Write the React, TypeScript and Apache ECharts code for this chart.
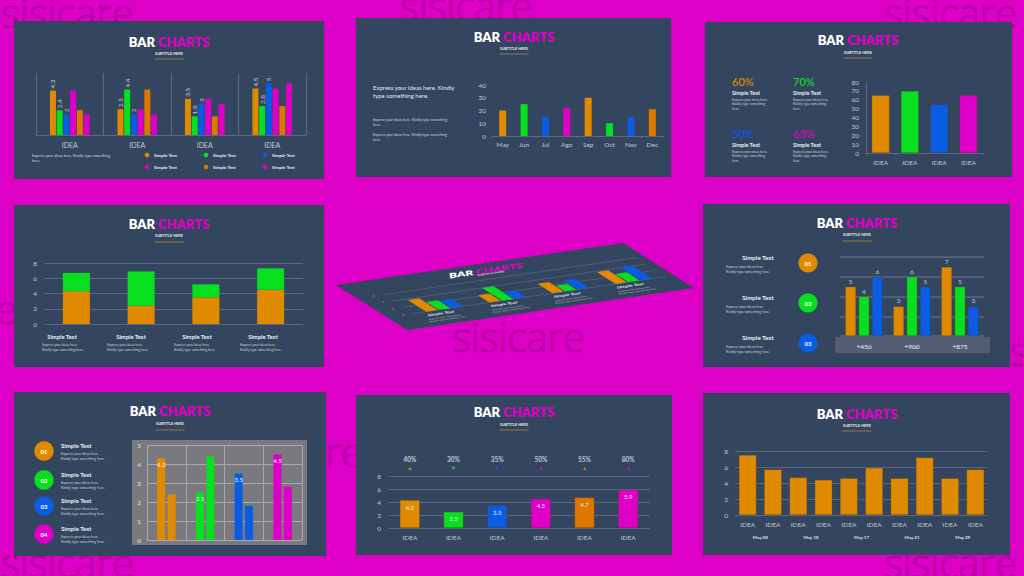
import React, { useEffect, useRef } from 'react';
import * as echarts from 'echarts';

// ---------------- data ----------------
const p1Categories = ['IDEA', 'IDEA', 'IDEA', 'IDEA'];
const p1Orange = [4.3, 2.5, 3.5, 4.5];
const p1Green = [2.4, 4.4, 1.8, 2.8];
const p1Blue = [2, 2, 3, 5];
const p1Magenta = [4.3, 2.5, 3.5, 4.5];
const p1DarkOrange = [2.4, 4.4, 1.8, 2.8];
const p1Magenta2 = [2, 2, 3, 5];
const p1Legend = ['Simple Text', 'Simple Text', 'Simple Text', 'Simple Text', 'Simple Text', 'Simple Text'];

const p2Months = ['May', 'Jun', 'Jul', 'Ago', 'Sep', 'Oct', 'Nov', 'Dec'];
const p2Values = [20, 25, 15, 22, 30, 10, 15, 21];

const p3Categories = ['IDEA', 'IDEA', 'IDEA', 'IDEA'];
const p3Values = [65, 70, 55, 65];
const p3Stats = ['60%', '70%', '50%', '63%'];

const p4Labels = ['Simple Text', 'Simple Text', 'Simple Text', 'Simple Text'];
const p4Base = [4.3, 2.4, 3.5, 4.5];
const p4Top = [2.4, 4.5, 1.7, 2.8];

const p5Groups = ['G1', 'G2', 'G3', 'G4'];
const p5Orange = [3.7, 2.3, 3.0, 3.8];
const p5Green = [2.5, 4.0, 1.8, 2.6];
const p5Blue = [2.3, 2.1, 2.8, 4.2];
const p5GridValues = [0, 2, 4, 6];

const p6Categories = ['+450', '+900', '+875'];
const p6Orange = [5, 3, 7];
const p6Green = [4, 6, 5];
const p6Blue = [6, 5, 3];
const p6Steps = ['01', '02', '03'];

const p7Categories = ['A', 'B', 'C', 'D'];
const p7First = [4.3, 2.5, 3.5, 4.5];
const p7Second = [2.4, 4.4, 1.8, 2.8];
const p7Steps = ['01', '02', '03', '04'];

const p8Categories = ['IDEA', 'IDEA', 'IDEA', 'IDEA', 'IDEA', 'IDEA'];
const p8Values = [4.3, 2.5, 3.5, 4.5, 4.7, 5.9];
const p8Percents = ['40%', '30%', '35%', '50%', '55%', '80%'];
const p8Trends = ['up', 'down', 'down', 'up', 'up', 'up'];

const p9Categories = ['IDEA', 'IDEA', 'IDEA', 'IDEA', 'IDEA', 'IDEA', 'IDEA', 'IDEA', 'IDEA', 'IDEA'];
const p9Values = [7.5, 5.7, 4.7, 4.4, 4.6, 5.9, 4.6, 7.2, 4.6, 5.7];
const p9Dates = ['May 08', 'May 10', 'May 17', 'May 21', 'May 29'];

// ---------------- styles ----------------
const PAGE_BG = '#dd00c6';
const PANEL = '#34455f';
const ORANGE = '#e08a00';
const GREEN = '#06e01f';
const BLUE = '#0a5ce2';
const MAGENTA = '#df00c8';
const DORANGE = '#de7600';
const GOLD = '#9a7843';
const AXIS_GREY = '#5b687e';
const LABEL = '#c3c9d3';
const WHITE = '#f2f4f7';
const FONT = 'Lato, "Open Sans", sans-serif';

const p1Colors = [ORANGE, GREEN, BLUE, MAGENTA, DORANGE, MAGENTA];
const p2Colors = [ORANGE, GREEN, BLUE, MAGENTA, ORANGE, GREEN, BLUE, DORANGE];
const p3Colors = [ORANGE, GREEN, BLUE, MAGENTA];
const p7Colors = [ORANGE, GREEN, BLUE, MAGENTA];
const p8Colors = [ORANGE, GREEN, BLUE, MAGENTA, DORANGE, MAGENTA];

const DESC2 = 'Express your ideas here.\nKindly type something here.';

// skewed slide (panel 5) plane
const SK = { ox: 336, oy: 285, ax: 287, ay: -42, bx: 71, by: 45 };
const SK_ROT = Math.atan2(42, 287);
const skew = (u: number, v: number) => [SK.ox + u * SK.ax + v * SK.bx, SK.oy + u * SK.ay + v * SK.by];
const SK_U0 = 0.09, SK_U1 = 0.97, SK_V0 = 0.3, SK_V1 = 0.72;
const toSlide = (cs: any, px: number, py: number) =>
  skew(SK_U0 + ((px - cs.x) / cs.width) * (SK_U1 - SK_U0), SK_V0 + ((py - cs.y) / cs.height) * (SK_V1 - SK_V0));

function txt(x: number, y: number, text: string, font: string, fill: string, align = 'left', va = 'middle', extra: any = {}) {
  return { type: 'text', x, y, z: 5, style: { text, font, fill, align, verticalAlign: va, ...extra } };
}

function title(cx: number, ty: number, sy: number, ly: number) {
  return [
    {
      type: 'text', x: cx, y: ty, z: 5,
      style: {
        text: '{w|BAR} {m|CHARTS}', align: 'center', verticalAlign: 'middle',
        font: `800 13px ${FONT}`, fill: '#ffffff',
        rich: {
          w: { fill: '#ffffff', font: `800 13px ${FONT}` },
          m: { fill: MAGENTA, font: `800 13px ${FONT}` },
        },
      },
    },
    txt(cx, sy, 'SUBTITLE HERE', `bold 3.8px ${FONT}`, '#e8eaf0', 'center'),
    { type: 'line', z: 5, shape: { x1: cx - 14.5, y1: ly, x2: cx + 14.5, y2: ly }, style: { stroke: GOLD, lineWidth: 1 } },
  ];
}

function buildOption() {
  const g: any[] = [];

  // watermarks (embossed look)
  const wmPos = [[1, 12], [400, 5], [884, 12], [452, 336], [230, 451], [1, 562], [884, 562], [-116, 308], [1010, 350]];
  wmPos.forEach(([x, y]) =>
    g.push({
      type: 'text', x, y, z: -20, silent: true,
      style: {
        text: 'sisicare', font: `300 40px "Open Sans", sans-serif`, fill: 'rgba(120,0,108,0.07)',
        stroke: 'rgba(85,0,75,0.55)', lineWidth: 0.6, align: 'left', verticalAlign: 'middle',
      },
    })
  );

  // panels
  const panels = [
    [14, 21, 310, 158], [356, 18, 315, 159], [705, 22, 307, 155],
    [14, 205, 310, 162], [703, 204, 307, 163],
    [14, 392, 312, 164], [356, 395, 316, 160], [703, 393, 307, 162],
  ];
  panels.forEach(([x, y, w, h]) => g.push({ type: 'rect', z: -10, shape: { x, y, width: w, height: h }, style: { fill: PANEL } }));
  // skewed slide
  g.push({ type: 'polygon', z: -10, shape: { points: [skew(0, 0), skew(1, 0), skew(1, 1), skew(0, 1)] }, style: { fill: PANEL } });

  // titles
  g.push(...title(169, 42, 53, 59));
  g.push(...title(514, 37, 48, 54));
  g.push(...title(858, 40, 52, 58));
  g.push(...title(169, 224, 235, 242));
  g.push(...title(857, 223, 234, 241));
  g.push(...title(170, 411, 423, 430));
  g.push(...title(514, 412, 424, 430));
  g.push(...title(857, 414, 425, 431));

  // panel 1 texts + legend
  g.push(txt(32, 152.5, 'Express your ideas here. Kindly type something\nhere.', `3.8px ${FONT}`, '#d5d9e0', 'left', 'top', { lineHeight: 5.3 }));
  const legPos = [[147, 155], [206, 155], [265, 155], [147, 167], [206, 167], [265, 167]];
  legPos.forEach(([x, y], i) => {
    g.push({ type: 'circle', z: 5, shape: { cx: x, cy: y, r: 2.3 }, style: { fill: p1Colors[i] } });
    g.push(txt(x + 7, y, p1Legend[i], `bold 4.5px ${FONT}`, '#e8eaf0'));
  });

  // panel 2 texts
  g.push(txt(373, 84, 'Express your ideas here. Kindly\ntype something here.', `6px ${FONT}`, '#e6e9ef', 'left', 'top', { lineHeight: 7.5 }));
  g.push(txt(373, 116.5, 'Express your ideas here. Kindly type something\nhere.', `3.6px ${FONT}`, '#d0d5de', 'left', 'top', { lineHeight: 5 }));
  g.push(txt(373, 131.5, 'Express your ideas here. Kindly type something\nhere.', `3.6px ${FONT}`, '#d0d5de', 'left', 'top', { lineHeight: 5 }));

  // panel 3 stat blocks
  const statPos = [[732, 81], [793, 81], [732, 133], [793, 133]];
  statPos.forEach(([x, y], i) => {
    g.push(txt(x, y, p3Stats[i], `500 11px ${FONT}`, p3Colors[i]));
    g.push(txt(x, y + 11.5, 'Simple Text', `bold 5.5px ${FONT}`, '#eef0f4'));
    g.push(txt(x, y + 16.5, 'Express your ideas here.\nKindly type something\nhere.', `3.4px ${FONT}`, '#c9ced8', 'left', 'top', { lineHeight: 4.5 }));
  });

  // panel 4 labels
  const p4LabelX = [62, 131, 197, 263];
  const p4DescX = [42, 107, 174, 240];
  p4Labels.forEach((l, i) => {
    g.push(txt(p4LabelX[i], 336, l, `bold 5.8px ${FONT}`, '#eef0f4', 'center'));
    g.push(txt(p4DescX[i], 343, DESC2, `3.4px ${FONT}`, '#c9ced8', 'left', 'top', { lineHeight: 4.5 }));
  });

  // panel 5 (skewed) texts
  const [tx, ty] = skew(0.49, 0.13);
  g.push({
    type: 'text', x: tx, y: ty, z: 5, rotation: SK_ROT, scaleX: 0.92, scaleY: 0.55,
    style: {
      text: '{w|BAR} {m|CHARTS}', align: 'center', verticalAlign: 'middle', font: `800 13px ${FONT}`, fill: '#fff',
      rich: { w: { fill: '#ffffff', font: `800 13px ${FONT}` }, m: { fill: MAGENTA, font: `800 13px ${FONT}` } },
    },
  });
  const [stx, sty] = skew(0.49, 0.2);
  g.push({ type: 'text', x: stx, y: sty, z: 5, rotation: SK_ROT, scaleY: 0.55, style: { text: 'SUBTITLE HERE', font: `bold 3.8px ${FONT}`, fill: '#e8eaf0', align: 'center', verticalAlign: 'middle' } });
  [0, 1, 2, 3].forEach((i) => {
    const uc = SK_U0 + (SK_U1 - SK_U0) * (i + 0.5) / 4;
    const [lx, ly] = skew(uc - 0.03, 0.79);
    g.push({ type: 'text', x: lx, y: ly, z: 5, rotation: SK_ROT, scaleX: 0.92, scaleY: 0.55, style: { text: 'Simple Text', font: `bold 5.8px ${FONT}`, fill: '#eef0f4', align: 'center', verticalAlign: 'middle' } });
    const [dx, dy] = skew(uc - 0.085, 0.84);
    g.push({ type: 'text', x: dx, y: dy, z: 5, rotation: SK_ROT, scaleX: 0.92, scaleY: 0.55, style: { text: DESC2, font: `3.4px ${FONT}`, fill: '#c9ced8', align: 'left', verticalAlign: 'top', lineHeight: 4.5 } });
  });

  // panel 6 left items
  const p6Y = [263, 303, 343];
  const p6CircleColors = [ORANGE, GREEN, BLUE];
  p6Steps.forEach((s, i) => {
    g.push(txt(758, p6Y[i] - 6, 'Simple Text', `bold 6.2px ${FONT}`, '#eef0f4', 'center'));
    g.push(txt(726, p6Y[i] + 0.5, DESC2, `3.6px ${FONT}`, '#c9ced8', 'left', 'top', { lineHeight: 5.2 }));
    g.push({ type: 'circle', z: 5, shape: { cx: 808, cy: p6Y[i], r: 9.6 }, style: { fill: p6CircleColors[i] } });
    g.push(txt(808, p6Y[i], s, `bold 6px ${FONT}`, '#ffffff', 'center'));
  });
  g.push({ type: 'rect', z: -5, shape: { x: 835, y: 337, width: 155, height: 16 }, style: { fill: '#525e71' } });

  // panel 7 left items + chart backdrop
  const p7Y = [451, 480, 506, 534];
  p7Steps.forEach((s, i) => {
    g.push({ type: 'circle', z: 5, shape: { cx: 44, cy: p7Y[i], r: 9.7 }, style: { fill: p7Colors[i] } });
    g.push(txt(44, p7Y[i], s, `bold 6px ${FONT}`, '#ffffff', 'center'));
    g.push(txt(61, p7Y[i] - 6, 'Simple Text', `bold 6px ${FONT}`, '#eef0f4'));
    g.push(txt(61, p7Y[i] - 0.5, DESC2, `3.6px ${FONT}`, '#c9ced8', 'left', 'top', { lineHeight: 5.6 }));
  });
  g.push({ type: 'rect', z: -5, shape: { x: 132, y: 440, width: 175, height: 105 }, style: { fill: '#79797f' } });

  const yLbl = (extra: any = {}) => ({ color: LABEL, fontSize: 6.5, fontFamily: FONT, ...extra });
  const grids = [
    { left: 36, top: 73, width: 270, height: 62 },
    { left: 492, top: 85, width: 171, height: 51 },
    { left: 866, top: 82, width: 117, height: 71 },
    { left: 44, top: 263, width: 259, height: 61 },
    { left: 0, top: 0, width: 100, height: 100 },
    { left: 840, top: 257, width: 144, height: 79 },
    { left: 147, top: 445, width: 155, height: 95 },
    { left: 388, top: 476, width: 262, height: 52 },
    { left: 735, top: 451, width: 253, height: 64 },
  ].map((gr) => ({ ...gr, containLabel: false, outerBoundsMode: 'none', show: false }));

  const noLine = { show: false };
  const xAxis: any[] = [
    { gridIndex: 0, type: 'category', data: p1Categories, axisLine: { lineStyle: { color: AXIS_GREY, width: 1.2 } }, axisTick: noLine, splitLine: { show: true, lineStyle: { color: AXIS_GREY, width: 1.2 } }, axisLabel: { ...yLbl({ fontSize: 7 }), margin: 6, interval: 0 } },
    { gridIndex: 1, type: 'category', data: p2Months, axisLine: { lineStyle: { color: AXIS_GREY } }, axisTick: { show: true, length: 2, lineStyle: { color: AXIS_GREY } }, splitLine: noLine, axisLabel: { ...yLbl(), margin: 5, interval: 0 } },
    { gridIndex: 2, type: 'category', data: p3Categories, axisLine: { lineStyle: { color: AXIS_GREY } }, axisTick: { show: true, length: 2, lineStyle: { color: AXIS_GREY } }, splitLine: noLine, axisLabel: { ...yLbl(), margin: 6, interval: 0 } },
    { gridIndex: 3, type: 'category', data: p4Labels, axisLine: noLine, axisTick: noLine, splitLine: noLine, axisLabel: noLine },
    { gridIndex: 4, type: 'category', data: p5Groups, show: false },
    { gridIndex: 5, type: 'category', data: p6Categories, axisLine: noLine, axisTick: noLine, splitLine: noLine, axisLabel: { color: WHITE, fontSize: 6.5, fontFamily: FONT, margin: 7, interval: 0 } },
    { gridIndex: 6, type: 'category', data: p7Categories, axisLine: { lineStyle: { color: '#a9a9ad' } }, axisTick: noLine, splitLine: { show: true, lineStyle: { color: '#a9a9ad' } }, axisLabel: noLine },
    { gridIndex: 7, type: 'category', data: p8Categories, axisLine: noLine, axisTick: noLine, splitLine: noLine, axisLabel: { ...yLbl(), margin: 6, interval: 0 } },
    {
      gridIndex: 7, type: 'category', position: 'top', data: p8Percents, axisLine: noLine, axisTick: noLine, splitLine: noLine,
      axisLabel: {
        margin: 5, interval: 0,
        formatter: (value: string, index: number) => `{p|${value}}\n{t${index}|${p8Trends[index] === 'up' ? '▲' : '▼'}}`,
        rich: {
          p: { color: LABEL, fontSize: 6.5, fontWeight: 'bold', fontFamily: FONT, lineHeight: 9 },
          ...Object.fromEntries(p8Colors.map((c, i) => [`t${i}`, { color: c, fontSize: 5.5, lineHeight: 7 }])),
        },
      },
    },
    { gridIndex: 8, type: 'category', data: p9Categories, axisLine: noLine, axisTick: noLine, splitLine: noLine, axisLabel: { ...yLbl(), margin: 6, interval: 0 } },
    { gridIndex: 8, type: 'category', position: 'bottom', offset: 14, data: p9Dates, axisLine: noLine, axisTick: noLine, splitLine: noLine, axisLabel: { color: '#e0e3ea', fontSize: 4.5, fontWeight: 'bold', fontFamily: FONT, margin: 6, interval: 0 } },
  ];

  const gridLine = (color = AXIS_GREY, width = 1.2) => ({ show: true, lineStyle: { color, width } });
  const yAxis: any[] = [
    { gridIndex: 0, type: 'value', min: 0, max: 6, show: false },
    { gridIndex: 1, type: 'value', min: 0, max: 40, interval: 10, axisLine: noLine, axisTick: noLine, splitLine: noLine, axisLabel: { ...yLbl(), margin: 6 } },
    { gridIndex: 2, type: 'value', min: 0, max: 80, interval: 10, axisLine: { show: true, lineStyle: { color: AXIS_GREY } }, axisTick: noLine, splitLine: noLine, axisLabel: { ...yLbl(), margin: 7 } },
    { gridIndex: 3, type: 'value', min: 0, max: 8, interval: 2, axisLine: noLine, axisTick: noLine, splitLine: gridLine(), axisLabel: { ...yLbl(), margin: 7 } },
    { gridIndex: 4, type: 'value', min: 0, max: 6, show: false },
    { gridIndex: 5, type: 'value', min: 0, max: 8, interval: 2, axisLine: noLine, axisTick: noLine, splitLine: gridLine(AXIS_GREY, 1.6), axisLabel: noLine },
    { gridIndex: 6, type: 'value', min: 0, max: 5, interval: 1, axisLine: noLine, axisTick: noLine, splitLine: gridLine('#a9a9ad', 1), axisLabel: { color: '#e3e3e6', fontSize: 6.5, fontFamily: FONT, margin: 6 } },
    { gridIndex: 7, type: 'value', min: 0, max: 8, interval: 2, axisLine: noLine, axisTick: noLine, splitLine: gridLine(), axisLabel: { ...yLbl(), margin: 7 } },
    { gridIndex: 8, type: 'value', min: 0, max: 8, interval: 2, axisLine: noLine, axisTick: noLine, splitLine: gridLine(), axisLabel: { ...yLbl(), margin: 7 } },
  ];

  const outline = { borderColor: 'rgba(90,60,20,0.45)', borderWidth: 0.6 };
  const series: any[] = [];

  // panel 1
  [p1Orange, p1Green, p1Blue, p1Magenta, p1DarkOrange, p1Magenta2].forEach((d, k) => {
    series.push({
      type: 'bar', xAxisIndex: 0, yAxisIndex: 0, data: d, barWidth: 6, barGap: '12%',
      itemStyle: { color: p1Colors[k] },
      label: k < 3
        ? { show: true, position: 'top', rotate: 90, align: 'left', verticalAlign: 'middle', distance: 2, fontSize: 6.5, color: LABEL, fontFamily: FONT }
        : { show: false },
    });
  });
  // panel 2
  series.push({ type: 'bar', xAxisIndex: 1, yAxisIndex: 1, barWidth: 7, data: p2Values.map((v, i) => ({ value: v, itemStyle: { color: p2Colors[i] } })) });
  // panel 3
  series.push({ type: 'bar', xAxisIndex: 2, yAxisIndex: 2, barWidth: 18, itemStyle: outline, data: p3Values.map((v, i) => ({ value: v, itemStyle: { color: p3Colors[i], ...outline } })) });
  // panel 4
  series.push({ type: 'bar', xAxisIndex: 3, yAxisIndex: 3, stack: 'p4', barWidth: 27, data: p4Base, itemStyle: { color: ORANGE } });
  series.push({ type: 'bar', xAxisIndex: 3, yAxisIndex: 3, stack: 'p4', barWidth: 27, data: p4Top, itemStyle: { color: GREEN } });
  // panel 5 (skewed) grid lines + bars
  series.push({
    type: 'custom', coordinateSystem: 'cartesian2d', xAxisIndex: 4, yAxisIndex: 4, clip: false, z: 2, silent: true,
    data: p5GridValues.map((v) => [0, v]), encode: { x: 0, y: 1 },
    renderItem: (params: any, api: any) => {
      const cs = params.coordSys;
      const val = api.value(1);
      const y = api.coord([0, val])[1];
      const a = toSlide(cs, cs.x, y);
      const b = toSlide(cs, cs.x + cs.width, y);
      const l = toSlide(cs, cs.x - (0.03 / (SK_U1 - SK_U0)) * cs.width, y);
      return {
        type: 'group',
        children: [
          { type: 'line', shape: { x1: a[0], y1: a[1], x2: b[0], y2: b[1] }, style: { stroke: '#56637a', lineWidth: 0.8 } },
          { type: 'text', x: l[0], y: l[1], rotation: SK_ROT, scaleY: 0.6, style: { text: String(val), fill: '#aab2c0', font: `4px ${FONT}`, align: 'right', verticalAlign: 'middle' } },
        ],
      };
    },
  });
  const p5Colors = [ORANGE, GREEN, BLUE];
  series.push({
    type: 'custom', coordinateSystem: 'cartesian2d', xAxisIndex: 4, yAxisIndex: 4, clip: false, z: 3, silent: true,
    data: [...p5Orange.map((v, i) => [i, v, 0]), ...p5Green.map((v, i) => [i, v, 1]), ...p5Blue.map((v, i) => [i, v, 2])],
    encode: { x: 0, y: 1 },
    renderItem: (params: any, api: any) => {
      const cs = params.coordSys;
      const idx = api.value(0), val = api.value(1), s = api.value(2);
      const base = api.coord([idx, 0]);
      const top = api.coord([idx, val]);
      const band = api.size([1, 0])[0];
      const w = band * 0.18, gap = band * 0.02;
      const cx = base[0] + (s - 1) * (w + gap);
      const pts = [
        toSlide(cs, cx - w / 2, top[1]), toSlide(cs, cx + w / 2, top[1]),
        toSlide(cs, cx + w / 2, base[1]), toSlide(cs, cx - w / 2, base[1]),
      ];
      return { type: 'polygon', shape: { points: pts }, style: { fill: p5Colors[s] } };
    },
  });
  // panel 6
  [p6Orange, p6Green, p6Blue].forEach((d, k) => {
    series.push({
      type: 'bar', xAxisIndex: 5, yAxisIndex: 5, data: d, barWidth: 10.7, barGap: '25%',
      itemStyle: { color: [ORANGE, GREEN, BLUE][k], ...outline },
      label: { show: true, position: 'top', distance: 2, fontSize: 6.5, color: LABEL, fontFamily: FONT },
    });
  });
  // panel 7
  series.push({
    type: 'bar', xAxisIndex: 6, yAxisIndex: 6, barWidth: 8, barGap: '30%',
    data: p7First.map((v, i) => ({ value: v, itemStyle: { color: p7Colors[i] } })),
    label: { show: true, position: 'insideTop', distance: 3, fontSize: 6, color: '#f4f4f4', fontFamily: FONT },
  });
  series.push({
    type: 'bar', xAxisIndex: 6, yAxisIndex: 6, barWidth: 8, barGap: '30%',
    data: p7Second.map((v, i) => ({ value: v, itemStyle: { color: p7Colors[i] } })),
  });
  // panel 8
  series.push({
    type: 'bar', xAxisIndex: 7, yAxisIndex: 7, barWidth: 20,
    data: p8Values.map((v, i) => ({ value: v, itemStyle: { color: p8Colors[i], ...outline } })),
    label: { show: true, position: 'insideTop', distance: 4, fontSize: 6, color: '#ececec', fontFamily: FONT },
  });
  // panel 9
  series.push({ type: 'bar', xAxisIndex: 9, yAxisIndex: 8, barWidth: 17.7, data: p9Values, itemStyle: { color: ORANGE, ...outline } });

  return {
    animation: false,
    backgroundColor: PAGE_BG,
    textStyle: { fontFamily: FONT },
    grid: grids,
    xAxis,
    yAxis,
    series,
    graphic: { elements: g },
  };
}

export default function App() {
  const ref = useRef<HTMLDivElement>(null);
  useEffect(() => {
    const chart = echarts.init(ref.current as HTMLDivElement, null, { renderer: 'svg' });
    chart.setOption(buildOption() as any);
    return () => chart.dispose();
  }, []);
  return <div ref={ref} style={{ position: 'absolute', left: 0, top: 0, width: 1024, height: 576 }} />;
}
